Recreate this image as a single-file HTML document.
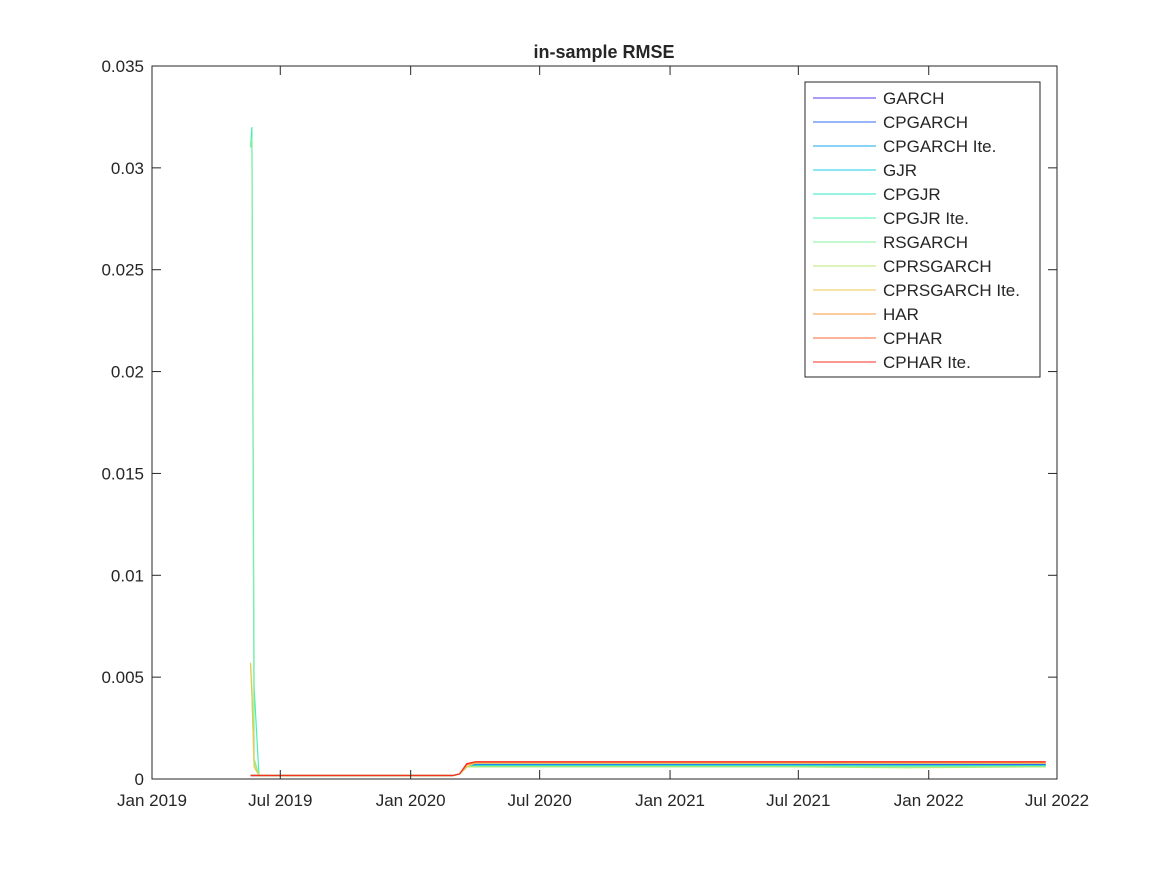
<!DOCTYPE html>
<html><head><meta charset="utf-8"><style>
body{margin:0;background:#fff;}
svg text{font-family:"Liberation Sans",Arial,sans-serif;fill:#262626;}
</style></head><body>
<svg id="chart" width="1167" height="875" xmlns="http://www.w3.org/2000/svg">
<rect width="1167" height="875" fill="#fff"/>
<text x="604" y="58" font-size="18" font-weight="bold" text-anchor="middle">in-sample RMSE</text>
<g id="series"></g>
<rect x="152" y="66" width="905" height="713" fill="none" stroke="#262626" stroke-width="1"/>
<g id="axes"></g>
<g id="legend"></g>
</svg>
<script>
const yTicks=[0,0.005,0.01,0.015,0.02,0.025,0.03,0.035];
const yTickLabels=["0","0.005","0.01","0.015","0.02","0.025","0.03","0.035"];
const xTicks=["2019-01-01","2019-07-01","2020-01-01","2020-07-01","2021-01-01","2021-07-01","2022-01-01","2022-07-01"];
const xTickLabels=["Jan 2019","Jul 2019","Jan 2020","Jul 2020","Jan 2021","Jul 2021","Jan 2022","Jul 2022"];
const dates=["2019-05-20","2019-05-22","2019-05-25","2019-06-01","2020-03-01","2020-03-10","2020-03-20","2020-04-01","2021-06-01","2021-12-01","2022-06-15"];
const seriesNames=["GARCH","CPGARCH","CPGARCH Ite.","GJR","CPGJR","CPGJR Ite.","RSGARCH","CPRSGARCH","CPRSGARCH Ite.","HAR","CPHAR","CPHAR Ite."];
const seriesColors=["#5a35f0","#2f6cf0","#1aa6e8","#1ad0e0","#2ee8c8","#4cf0b0","#80f0a0","#b8e870","#e8c850","#f89a40","#f86830","#f83020"];
const sGARCH=[0.00017,0.00017,0.00017,0.00017,0.00017,0.00025,0.0006,0.0007,0.0007,0.0007,0.0007];
const sCPGARCH=[0.00017,0.00017,0.00017,0.00017,0.00017,0.00025,0.0006,0.00072,0.00072,0.00072,0.00072];
const sCPGARCHIte=[0.00017,0.00017,0.00017,0.00017,0.00017,0.00025,0.0006,0.00068,0.00068,0.00066,0.00066];
const sGJR=[0.00017,0.00017,0.00017,0.00017,0.00017,0.00025,0.0006,0.00066,0.00066,0.00066,0.00066];
const sCPGJR=[0.00017,0.00017,0.00017,0.00017,0.00017,0.00025,0.0006,0.00064,0.00064,0.00064,0.00064];
const sCPGJRIte=[0.031,0.032,0.0045,0.00017,0.00017,0.00025,0.0006,0.00063,0.00063,0.00062,0.00062];
const sRSGARCH=[0.031,0.0315,0.001,0.00017,0.00017,0.00025,0.0006,0.0006,0.0006,0.0006,0.0006];
const sCPRSGARCH=[0.0057,0.004,0.0008,0.00017,0.00017,0.00025,0.0006,0.0006,0.0006,0.00055,0.0006];
const sCPRSGARCHIte=[0.0057,0.0045,0.0006,0.00017,0.00017,0.00025,0.0006,0.00078,0.00078,0.00078,0.00078];
const sHAR=[0.00017,0.00017,0.00017,0.00017,0.00017,0.00025,0.0007,0.00082,0.00082,0.00082,0.00082];
const sCPHAR=[0.00017,0.00017,0.00017,0.00017,0.00017,0.00025,0.0007,0.00083,0.00083,0.00083,0.00083];
const sCPHARIte=[0.00017,0.00017,0.00017,0.00017,0.00017,0.00025,0.00075,0.00085,0.00085,0.00085,0.00085];
const allSeries=[sGARCH,sCPGARCH,sCPGARCHIte,sGJR,sCPGJR,sCPGJRIte,sRSGARCH,sCPRSGARCH,sCPRSGARCHIte,sHAR,sCPHAR,sCPHARIte];

const NS="http://www.w3.org/2000/svg";
const X0=152,X1=1057,Y0=779,Y1=66;
const t0=Date.parse("2019-01-01"),t1=Date.parse("2022-07-01");
function xs(d){return X0+(Date.parse(d)-t0)/(t1-t0)*(X1-X0);}
function ys(v){return Y0-(v/0.035)*(Y0-Y1);}
function mk(tag,attrs,parent){const e=document.createElementNS(NS,tag);for(const k in attrs)e.setAttribute(k,attrs[k]);parent.appendChild(e);return e;}

const sg=document.getElementById('series');
allSeries.forEach((s,i)=>{
  const pts=s.map((v,j)=>xs(dates[j]).toFixed(1)+","+ys(v).toFixed(1)).join(" ");
  const pl=mk('polyline',{points:pts,fill:"none",stroke:seriesColors[i],"stroke-width":1.2},sg);
  
  
});

const ag=document.getElementById('axes');
yTicks.forEach((v,i)=>{
  const y=ys(v);
  mk('line',{x1:X0,x2:X0+9,y1:y,y2:y,stroke:"#262626"},ag);
  mk('line',{x1:X1,x2:X1-9,y1:y,y2:y,stroke:"#262626"},ag);
  const t=mk('text',{x:X0-8,y:y+6,"font-size":17,"text-anchor":"end"},ag);
  t.textContent=yTickLabels[i];
  
  
});
xTicks.forEach((d,i)=>{
  const x=xs(d);
  mk('line',{x1:x,x2:x,y1:Y0,y2:Y0-9,stroke:"#262626"},ag);
  mk('line',{x1:x,x2:x,y1:Y1,y2:Y1+9,stroke:"#262626"},ag);
  const t=mk('text',{x:x,y:806,"font-size":17,"text-anchor":"middle"},ag);
  t.textContent=xTickLabels[i];
  
  
});

const lg=document.getElementById('legend');


mk('rect',{x:805,y:82,width:235,height:295,fill:"#fff",stroke:"#262626"},lg);
seriesNames.forEach((n,i)=>{
  const y=98+i*24;
  const g=mk('g',{},lg);
  
  
  mk('line',{x1:813,x2:876,y1:y,y2:y,stroke:seriesColors[i],"stroke-width":1},g);
  const t=mk('text',{x:883,y:y+6,"font-size":17},g);
  t.textContent=n;
});
</script>
</body></html>
